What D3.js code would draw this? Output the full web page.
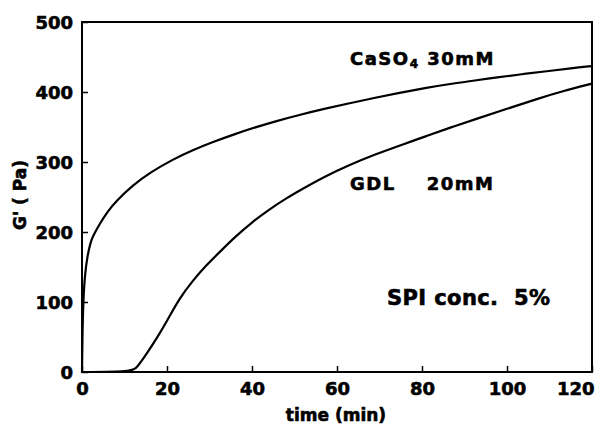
<!DOCTYPE html>
<html>
<head>
<meta charset="utf-8">
<script src="https://cdn.jsdelivr.net/npm/d3@7"></script>
<style>
  body { margin: 0; background: #fff; }
  text { font-family: "DejaVu Sans", Arial, sans-serif; font-weight: bold; fill: #000; stroke: #000; stroke-width: 0.6px; }
</style>
</head>
<body>
<div id="graph"></div>
<script>
//Data: time in minutes and G' in Pa.
const casoTime = [0, 0.1, 0.3, 0.7, 1.25, 2, 2.5, 4, 6, 8, 12, 16, 21.5, 26, 31, 36, 41, 46, 51, 57, 63, 69, 75, 81, 87, 93, 98, 104, 110, 115, 120];
const casoG = [0, 50, 103, 140, 165, 185, 193, 210, 229, 244, 267, 285, 304, 317, 329, 340, 350, 359, 367, 376, 384, 392, 399, 406, 412, 417, 421, 426, 430, 434, 437];
const gdlTime = [0, 11.7, 13, 15, 18, 20, 23, 26, 29, 32.5, 36, 40, 44, 48, 52, 57, 63, 69, 75, 81, 87, 93, 100, 107, 113, 120];
const gdlG = [0, 0, 7, 24, 52, 73, 106, 130, 151, 172, 193, 214, 232, 248, 262, 279, 296, 311, 324, 337, 350, 362, 376, 390, 401, 412];
const xTicks = [0, 20, 40, 60, 80, 100, 120];
const yTicks = [0, 100, 200, 300, 400, 500];

//Size of the page and the plot box.
let w = 608;
let h = 425;
let plotLeft = 82;
let plotRight = 592;
let plotTop = 22;
let plotBottom = 372;

const svg = d3.select('#graph')
              .append("svg")
              .attr("width", w)
              .attr("height", h)

let xScale = d3.scaleLinear().domain([0, 120]).range([plotLeft, plotRight])
let yScale = d3.scaleLinear().domain([0, 500]).range([plotBottom, plotTop])

//Frame round the plot.
svg.append("rect")
   .attr("x", plotLeft)
   .attr("y", plotTop)
   .attr("width", plotRight - plotLeft)
   .attr("height", plotBottom - plotTop)
   .attr("fill", "none")
   .attr("stroke", "#000")
   .attr("stroke-width", 2)

//Axes with short ticks pointing inside.
let xAxis = d3.axisBottom(xScale).tickValues(xTicks).tickSizeInner(-6).tickSizeOuter(0).tickPadding(10)
let yAxis = d3.axisLeft(yScale).tickValues(yTicks).tickSizeInner(-6).tickSizeOuter(0).tickPadding(9)

svg.append("g")
   .attr("transform", "translate(0," + plotBottom + ")")
   .call(xAxis)
   .call(g => g.select(".domain").remove())
   .call(g => g.selectAll("line").attr("stroke-width", 1.5))
   .call(g => g.selectAll("text").style("font-size", "18px").attr("fill", "#000"))
   .call(g => g.selectAll("text").filter(d => d === 120).attr("text-anchor", "end").attr("x", 2))

svg.append("g")
   .attr("transform", "translate(" + plotLeft + ",0)")
   .call(yAxis)
   .call(g => g.select(".domain").remove())
   .call(g => g.selectAll("line").attr("stroke-width", 1.5))
   .call(g => g.selectAll("text").style("font-size", "18px").attr("fill", "#000").attr("dy", "0.36em"))

//Curves, smoothed like the hand-drawn originals.
const line = d3.line()
               .x(d => xScale(d[0]))
               .y(d => yScale(d[1]))
               .curve(d3.curveBasis)

svg.append("path")
   .datum(casoTime.map((t, i) => [t, casoG[i]]))
   .attr("d", line)
   .attr("fill", "none")
   .attr("stroke", "#000")
   .attr("stroke-width", 2.2)

svg.append("path")
   .datum(gdlTime.map((t, i) => [t, gdlG[i]]))
   .attr("d", line)
   .attr("fill", "none")
   .attr("stroke", "#000")
   .attr("stroke-width", 2.2)

//Labels.
const caso = svg.append("text")
   .attr("x", 350)
   .attr("y", 65)
   .style("font-size", "18px")
   .style("letter-spacing", "1.5px")
caso.append("tspan").text("CaSO")
caso.append("tspan").text("4").style("font-size", "12px").attr("dy", 3)
caso.append("tspan").text(" 30mM").attr("dy", -3)

svg.append("text")
   .attr("x", 350)
   .attr("y", 190)
   .style("font-size", "18px")
   .style("letter-spacing", "1.5px")
   .style("white-space", "pre")
   .text("GDL    20mM")

svg.append("text")
   .attr("x", 387)
   .attr("y", 305)
   .style("font-size", "21px")
   .style("letter-spacing", "0.4px")
   .style("white-space", "pre")
   .text("SPI conc.  5%")

svg.append("text")
   .attr("x", 336)
   .attr("y", 421)
   .style("text-anchor", "middle")
   .style("font-size", "17px")
   .style("white-space", "pre")
   .text("time (min)")

svg.append("text")
   .attr("transform", "translate(26,195) rotate(-90)")
   .style("text-anchor", "middle")
   .style("font-size", "17px")
   .style("white-space", "pre")
   .text("G' ( Pa)")
</script>
</body>
</html>
